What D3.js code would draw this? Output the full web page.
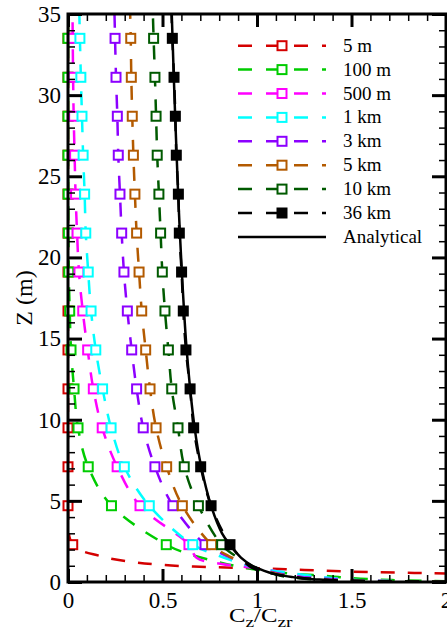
<!DOCTYPE html>
<html>
<head>
<meta charset="utf-8">
<script src="https://cdn.jsdelivr.net/npm/d3@7/dist/d3.min.js"></script>
<style>
body{margin:0;background:#fff;}
svg{display:block;font-family:"Liberation Serif","Times New Roman",serif;}
</style>
</head>
<body>
<div id="chart"></div>
<script>
var width=447,height=638;

// heights where the markers sit (m)
var markerZ=[2.3,4.7,7.1,9.5,11.9,14.3,16.7,19.1,21.5,23.9,26.3,28.7,31.1,33.5];

// Cz/Czr at the marker heights, one array per run
var m5  =[0.025,0,0,0,0,0,0,0,0,0,0,0,0,0];
var m100=[0.52,0.23,0.107,0.053,0.032,0.016,0.009,0.004,0.002,0.001,0,0,0,0];
var m500=[0.64,0.381,0.26,0.181,0.134,0.104,0.078,0.058,0.048,0.040,0.035,0.030,0.027,0.025];
var k1  =[0.66,0.43,0.298,0.228,0.183,0.147,0.122,0.107,0.094,0.088,0.080,0.074,0.068,0.063];
var k3  =[0.725,0.555,0.46,0.398,0.363,0.337,0.314,0.296,0.284,0.275,0.266,0.261,0.254,0.249];
var k5  =[0.76,0.605,0.522,0.466,0.434,0.411,0.39,0.376,0.363,0.354,0.346,0.34,0.335,0.332];
var k10 =[0.813,0.69,0.615,0.582,0.549,0.531,0.513,0.499,0.49,0.481,0.472,0.466,0.46,0.453];
var k36 =[0.857,0.757,0.702,0.665,0.646,0.624,0.61,0.601,0.589,0.584,0.573,0.568,0.561,0.552];

// value at the top of the domain (z=35)
var topX=[0,0,0.024,0.06,0.246,0.329,0.449,0.548];

// near-ground part of each profile (below the first marker)
var lowZ=[
  [1.6,1.25,1.05,0.92,0.85,0.74,0.64,0.58,0.52,0.45],
  [1.8,1.3,0.85,0.5,0.38,0.23,0.14,0.09,0.05,0.02],
  [1.5,1.1,0.85,0.37,0.2,0.1,0.04,0.02],
  [1.7,1.2,0.85,0.55,0.3,0.15,0.06,0.02],
  [2.0,1.4,0.85,0.35,0.22,0.12,0.05,0.02],
  [1.6,1.2,0.85,0.4,0.2,0.1,0.05,0.02],
  [1.5,0.85,0.4,0.2,0.1,0.04,0.02],
  [1.5,0.9,0.5,0.25,0.1,0.04,0.02]
];
var lowX=[
  [0.17,0.33,0.5,0.75,1.0,1.25,1.5,1.75,2.0,2.3],
  [0.62,0.77,0.95,1.2,1.36,1.51,1.66,1.8,2.0,2.3],
  [0.68,0.82,1.0,1.27,1.43,1.57,1.8,2.0],
  [0.78,0.9,1.0,1.18,1.35,1.48,1.7,2.0],
  [0.77,0.88,1.0,1.2,1.34,1.47,1.7,2.0],
  [0.85,0.93,1.0,1.15,1.28,1.45,1.7,2.0],
  [0.9,1.0,1.12,1.25,1.4,1.7,2.0],
  [0.915,0.97,1.09,1.24,1.42,1.7,2.0]
];

// analytical profile
var anaZ=[0.1,0.15,0.2,0.3,0.5,0.7,1,1.5,2.3,3,4.7,7.1,9.5,14.3,21.5,28.7,35];
var anaX=[1.42,1.33,1.26,1.19,1.09,1.035,0.975,0.915,0.857,0.815,0.757,0.705,0.67,0.628,0.592,0.567,0.549];

var names=["5 m","100 m","500 m","1 km","3 km","5 km","10 km","36 km"];
var markX=[m5,m100,m500,k1,k3,k5,k10,k36];
var colors=["#d40000","#00cc00","#ff00ff","#00ffff","#8c00ff","#b35a00","#005a00","#000000"];

var xTicks=[0,0.5,1,1.5,2], xTickLabels=["0","0.5","1","1.5","2"];
var yTicks=[0,5,10,15,20,25,30,35], yTickLabels=["0","5","10","15","20","25","30","35"];

var svg=d3.select("#chart").append("svg")
    .attr("width",width).attr("height",height);
svg.append("rect").attr("width",width).attr("height",height).attr("fill","#fff");

var x=d3.scaleLinear().domain([0,2]).range([68,446]);
var y=d3.scaleLinear().domain([0,35]).range([582,14]);

svg.append("clipPath").attr("id","plotclip")
  .append("rect")
    .attr("x",x(0)).attr("y",y(35))
    .attr("width",x(2)-x(0)).attr("height",y(0)-y(35));

var line=d3.line()
    .x(function(d){return x(d[0]);})
    .y(function(d){return y(d[1]);})
    .curve(d3.curveCatmullRom.alpha(0.5));

function drawMarker(g,cx,cy,i){
  g.append("rect")
    .attr("x",cx-4.5).attr("y",cy-4.5)
    .attr("width",9).attr("height",9)
    .attr("fill",i==7?"#000":"#fff")
    .attr("stroke",colors[i])
    .attr("stroke-width",2);
}

// profiles, in the legend's order so later runs sit on top
var plot=svg.append("g");
names.forEach(function(n,i){
  var pts=[];
  for(var j=lowZ[i].length-1;j>=0;j--) pts.push([lowX[i][j],lowZ[i][j]]);
  markerZ.forEach(function(z,j){pts.push([markX[i][j],z]);});
  pts.push([topX[i],35]);
  plot.append("path")
    .attr("d",line(pts))
    .attr("clip-path","url(#plotclip)")
    .attr("fill","none")
    .attr("stroke",colors[i])
    .attr("stroke-width",2.5)
    .attr("stroke-dasharray","14,13");
  markerZ.forEach(function(z,j){
    drawMarker(plot,x(markX[i][j]),y(z),i);
  });
});

var anaPts=anaZ.map(function(z,j){return [anaX[j],z];});
plot.append("path")
  .attr("d",line(anaPts))
  .attr("clip-path","url(#plotclip)")
  .attr("fill","none")
  .attr("stroke","#000")
  .attr("stroke-width",2.5);

// axes: ticks point inward on all four sides
function styleAxis(g,w){
  g.select(".domain").remove();
  g.selectAll(".tick line").attr("stroke","#000").attr("stroke-width",w);
  g.selectAll("text").attr("font-size",23).attr("font-family","Liberation Serif, Times New Roman, serif").attr("fill","#000");
}
svg.append("g").attr("transform","translate(0,"+y(0)+")")
  .call(d3.axisBottom(x).ticks(20).tickSize(-7).tickFormat(""))
  .call(styleAxis,1.5);
svg.append("g").attr("transform","translate(0,"+y(0)+")")
  .call(d3.axisBottom(x).tickValues(xTicks).tickSize(-13).tickPadding(10)
    .tickFormat(function(d,i){return xTickLabels[i];}))
  .call(styleAxis,3);
svg.append("g").attr("transform","translate(0,"+y(35)+")")
  .call(d3.axisTop(x).ticks(20).tickSize(-7).tickFormat(""))
  .call(styleAxis,1.5);
svg.append("g").attr("transform","translate(0,"+y(35)+")")
  .call(d3.axisTop(x).tickValues(xTicks).tickSize(-13).tickFormat(""))
  .call(styleAxis,3);
svg.append("g").attr("transform","translate("+x(0)+",0)")
  .call(d3.axisLeft(y).ticks(35).tickSize(-7).tickFormat(""))
  .call(styleAxis,1.5);
svg.append("g").attr("transform","translate("+x(0)+",0)")
  .call(d3.axisLeft(y).tickValues(yTicks).tickSize(-14).tickPadding(7)
    .tickFormat(function(d,i){return yTickLabels[i];}))
  .call(styleAxis,3);
svg.append("g").attr("transform","translate("+x(2)+",0)")
  .call(d3.axisRight(y).ticks(35).tickSize(-7).tickFormat(""))
  .call(styleAxis,1.5);
svg.append("g").attr("transform","translate("+x(2)+",0)")
  .call(d3.axisRight(y).tickValues(yTicks).tickSize(-14).tickFormat(""))
  .call(styleAxis,3);

svg.append("rect")
  .attr("x",x(0)).attr("y",y(35))
  .attr("width",x(2)-x(0)).attr("height",y(0)-y(35))
  .attr("fill","none").attr("stroke","#000").attr("stroke-width",3);

// axis titles
svg.append("text")
  .attr("transform","translate(32,"+y(17.5)+") rotate(-90)")
  .attr("text-anchor","middle")
  .attr("font-size",24)
  .text("Z (m)");

var xt=svg.append("text")
  .attr("transform","translate(229,622) scale(1.3,1)")
  .attr("font-size",19);
xt.append("tspan").text("C");
xt.append("tspan").attr("font-size",15).attr("dy",5).text("z");
xt.append("tspan").attr("dy",-5).text("/C");
xt.append("tspan").attr("font-size",15).attr("dy",5).text("zr");

// legend
var leg=svg.append("g");
var rowY=function(i){return 45.7+i*23.9;};
names.forEach(function(n,i){
  leg.append("line")
    .attr("x1",238).attr("x2",326)
    .attr("y1",rowY(i)).attr("y2",rowY(i))
    .attr("stroke",colors[i]).attr("stroke-width",2.5)
    .attr("stroke-dasharray","14,14");
  drawMarker(leg,282,rowY(i),i);
  leg.append("text")
    .attr("x",343).attr("y",rowY(i)).attr("dy","0.32em")
    .attr("font-size",19).text(n);
});
leg.append("line")
  .attr("x1",238).attr("x2",326)
  .attr("y1",rowY(8)).attr("y2",rowY(8))
  .attr("stroke","#000").attr("stroke-width",2.5);
leg.append("text")
  .attr("x",343).attr("y",rowY(8)).attr("dy","0.32em")
  .attr("font-size",19).text("Analytical");
</script>
</body>
</html>
